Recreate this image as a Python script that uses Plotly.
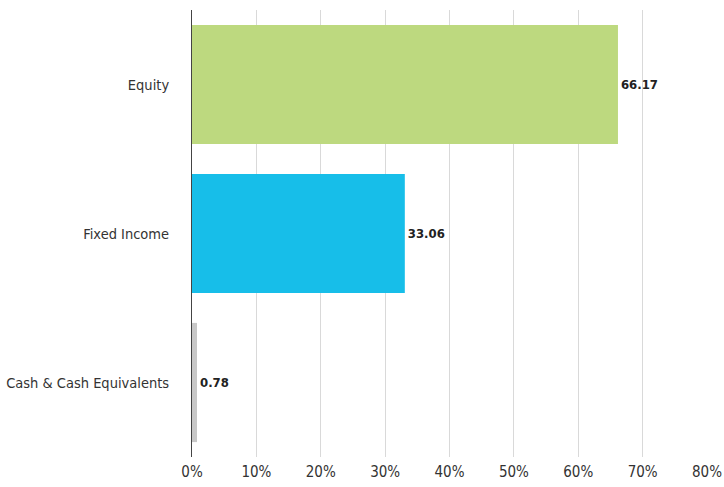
import plotly.graph_objects as go

categories = ["Equity", "Fixed Income", "Cash & Cash Equivalents"]
values = [66.17, 33.06, 0.78]
colors = ["#bdd97f", "#17bee9", "#c8c8c8"]
tick_vals = [0, 10, 20, 30, 40, 50, 60, 70, 80]
tick_text = ["0%", "10%", "20%", "30%", "40%", "50%", "60%", "70%", "80%"]

FONT = "Liberation Sans Narrow, Arial Narrow, DejaVu Sans Condensed, sans-serif"

fig = go.Figure(go.Bar(
    y=categories,
    x=values,
    orientation="h",
    marker=dict(color=colors, line=dict(width=0)),
    text=[f"{v:.2f}" for v in values],
    textposition="outside",
    constraintext="none",
    textfont=dict(family=FONT, size=13, color="#222222", weight="bold"),
    cliponaxis=False,
    hoverinfo="skip",
))

fig.update_layout(
    width=724, height=487,
    margin=dict(l=192, r=17, t=10, b=30),
    paper_bgcolor="white", plot_bgcolor="white",
    bargap=0.2,
    showlegend=False,
    font=dict(family=FONT, size=15, color="#333333"),
)
fig.update_xaxes(
    range=[0, 80],
    tickvals=tick_vals, ticktext=tick_text,
    showgrid=True, gridcolor="#d9d9d9", gridwidth=1,
    zeroline=False, showline=False, ticks="",
    ticklabelstandoff=4,
    automargin=False,
    tickfont=dict(family=FONT, size=15, color="#333333"),
)
fig.update_yaxes(
    autorange="reversed",
    showline=True, linecolor="#444444", linewidth=1,
    showgrid=False, ticks="",
    ticklabelstandoff=19,
    automargin=False,
    tickfont=dict(family=FONT, size=14.5, color="#333333"),
)

fig.write_html("out.html")
